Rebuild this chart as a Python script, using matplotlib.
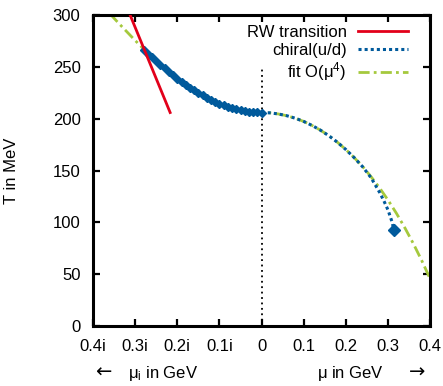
import numpy as np
import matplotlib
matplotlib.use('Agg')
from matplotlib import pyplot as plt

plt.rcParams['font.family'] = ['Liberation Sans', 'DejaVu Sans']
plt.rcParams['mathtext.fontset'] = 'custom'
plt.rcParams['mathtext.rm'] = 'Liberation Sans'
plt.rcParams['mathtext.default'] = 'regular'

# negative x = imaginary chemical potential mu_i, positive x = real mu (GeV)
# RW transition line
rw_mu = [-0.312, -0.217]
rw_T = [300, 206]

# chiral (u/d) data, imaginary side
chi_im_mu = [0.00, -0.01, -0.02, -0.03, -0.04, -0.05, -0.06, -0.07, -0.08, -0.09,
             -0.10, -0.11, -0.12, -0.13, -0.14, -0.15, -0.16, -0.17, -0.18, -0.19,
             -0.20, -0.21, -0.22, -0.23, -0.24, -0.25, -0.26, -0.27, -0.28]
chi_im_T = [206.0, 206.1, 206.3, 206.8, 207.4, 208.1, 209.1, 210.2, 211.5, 213.0,
            214.5, 216.3, 218.2, 220.3, 222.5, 224.9, 227.4, 230.0, 232.8, 235.7,
            238.7, 241.9, 245.1, 248.5, 252.0, 255.6, 259.2, 262.9, 266.6]

# chiral (u/d), real side (continuation)
chi_re_mu = [0.00, 0.02, 0.04, 0.06, 0.08, 0.10, 0.12, 0.14, 0.16, 0.18,
             0.20, 0.22, 0.24, 0.26, 0.28, 0.29, 0.30, 0.31, 0.3135]
chi_re_T = [206.0, 205.7, 204.6, 202.9, 200.5, 197.4, 193.5, 188.9, 183.5, 177.3,
            170.3, 162.4, 153.6, 143.0, 129.0, 121.0, 112.0, 100.0, 93.0]

# fit O(mu^4)
fit_mu = [-0.36, -0.34, -0.32, -0.30, -0.28, -0.26, -0.24, -0.22, -0.20, -0.18,
          -0.16, -0.14, -0.12, -0.10, -0.08, -0.06, -0.04, -0.02, 0.00,
          0.02, 0.04, 0.06, 0.08, 0.10, 0.12, 0.14, 0.16, 0.18, 0.20,
          0.22, 0.24, 0.26, 0.28, 0.30, 0.32, 0.34, 0.36, 0.38, 0.40]
fit_T = [301.3, 292.5, 284.0, 275.5, 267.3, 259.6, 252.1, 245.2, 238.7, 232.7,
         227.3, 222.4, 218.1, 214.5, 211.5, 209.1, 207.4, 206.3, 206.0,
         205.7, 204.6, 202.9, 200.5, 197.4, 193.5, 188.9, 183.5, 177.3, 170.3,
         162.4, 153.8, 144.0, 133.3, 121.6, 108.8, 94.8, 79.7, 63.3, 45.6]

xticks = [-0.4, -0.3, -0.2, -0.1, 0.0, 0.1, 0.2, 0.3, 0.4]
xticklabels = ['0.4i', '0.3i', '0.2i', '0.1i', '0', '0.1', '0.2', '0.3', '0.4']
yticks = [0, 50, 100, 150, 200, 250, 300]

red = '#e2001a'
blue = '#005a9c'
green = '#a5c93d'

fig = plt.figure(figsize=(4.43, 3.86), dpi=100)
ax = fig.add_axes([0.21, 0.155, 0.761, 0.806])

ax.plot([0, 0], [0, 250], color='black', ls=(0, (1, 2)), lw=1.3, zorder=1)
ax.plot(fit_mu, fit_T, color=green, ls=(0, (4, 1.5, 1, 1.5)), lw=2, zorder=2,
        label=r'fit O($\mu^4$)')
ax.plot(chi_im_mu, chi_im_T, color=blue, ls='none', marker='D', ms=3.8, zorder=3)
ax.plot(chi_re_mu, chi_re_T, color=blue, ls=(0, (1, 1)), lw=2.2, zorder=3,
        label='chiral(u/d)')
ax.plot([chi_re_mu[-1]], [chi_re_T[-1]], color=blue, marker='D', ms=6, ls='none', zorder=4)
ax.plot(rw_mu, rw_T, color=red, lw=2, zorder=4, label='RW transition')

ax.set_xlim(-0.4, 0.4)
ax.set_ylim(0, 300)
ax.set_xticks(xticks)
ax.set_xticklabels(xticklabels)
ax.set_yticks(yticks)
ax.tick_params(direction='in', length=5, width=1.6, top=True, right=True,
               labelsize=12)
ax.tick_params(axis='x', pad=9)
ax.tick_params(axis='y', pad=9)
for s in ax.spines.values():
    s.set_linewidth(2.2)

ax.set_ylabel('T in MeV', fontsize=12, labelpad=24)

h, l = ax.get_legend_handles_labels()
ax.legend(h[::-1], l[::-1], loc='upper right', frameon=False, markerfirst=False,
          fontsize=12, handlelength=3.0, labelspacing=0.15,
          borderaxespad=0.2, handletextpad=0.7, bbox_to_anchor=(0.965, 1.0))

fig.text(0.215, 0.022, '\u2190', fontsize=14, ha='left', va='baseline',
         family='DejaVu Sans')
fig.text(0.29, 0.022, r'$\mu_i$ in GeV', fontsize=12, ha='left', va='baseline')
fig.text(0.715, 0.022, r'$\mu$ in GeV', fontsize=12, ha='left', va='baseline')
fig.text(0.96, 0.022, '\u2192', fontsize=14, ha='right', va='baseline',
         family='DejaVu Sans')

fig.savefig('out.png', dpi=100)
